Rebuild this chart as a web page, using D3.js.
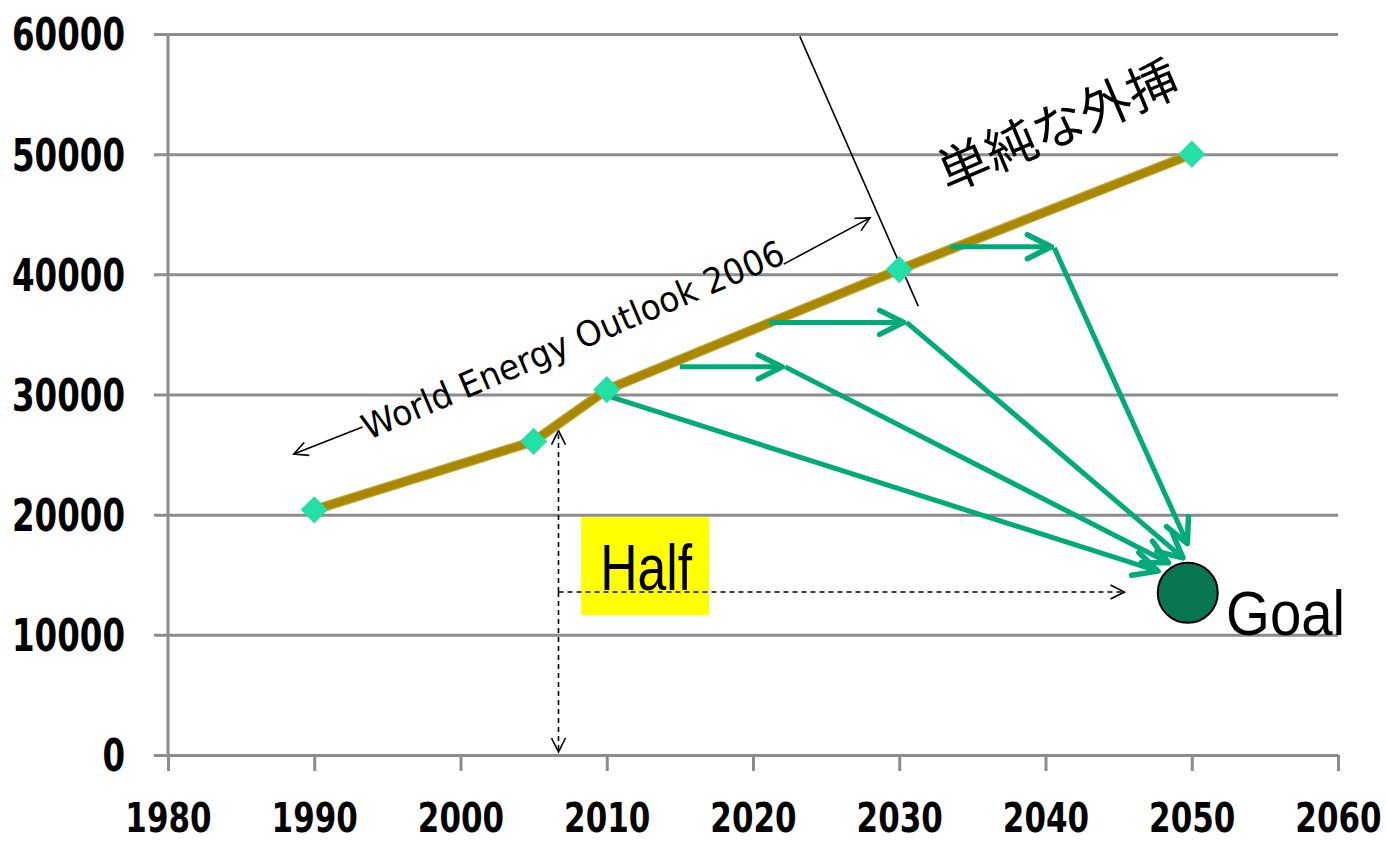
<!DOCTYPE html>
<html>
<head>
<meta charset="utf-8">
<script src="https://cdn.jsdelivr.net/npm/d3@7"></script>
<style>
  html, body { margin: 0; padding: 0; background: #fff; }
  svg { display: block; }
</style>
</head>
<body>
<svg id="chart" width="1387" height="842"></svg>
<script>
// Energy-related emissions path: history, WEO 2006 outlook and the 2050 goal
const years = [1990, 2005, 2010, 2030, 2050];
const values = [20400, 26100, 30400, 40400, 50000];

const xTicks = [1980, 1990, 2000, 2010, 2020, 2030, 2040, 2050, 2060];
const yTicks = [0, 10000, 20000, 30000, 40000, 50000, 60000];

// 2050 target point
const goal = [2050, 13500];

// reduction pathways: a horizontal "delay" step, then the drop towards the goal
const delaySteps = [
  [[2015.0, 32300], [2022.0, 32300]],
  [[2021.1, 36000], [2030.3, 36000]],
  [[2033.5, 42300], [2040.4, 42300]]
];
const dropPaths = [
  [[2010.0, 29900], [2047.7, 15300]],
  [[2022.2, 32300], [2048.4, 16000]],
  [[2030.5, 36000], [2049.4, 16400]],
  [[2040.6, 42200], [2049.7, 17600]]
];

// WEO 2006 span arrows and the divider line
const weoLeft = [[1993.3, 27300], [1988.6, 25050]];
const weoRight = [[2022.1, 40850], [2028.0, 44700]];
const divider = [[2023.2, 59800], [2031.3, 37350]];

// "Half" guide lines
const halfDown = [[2006.7, 13560], [2006.7, 250]];
const halfUp = [[2006.7, 13560], [2006.7, 27000]];
const halfRight = [[2006.7, 13560], [2045.4, 13560]];
const halfBox = [[2008.25, 19800], [2017.0, 11650]];

const svg = d3.select("#chart");
const x = d3.scaleLinear().domain([1980, 2060]).range([168, 1338]);
const y = d3.scaleLinear().domain([0, 60000]).range([755, 34]);

const gridColor = "#8c8c8c";
const green = "#00ab7a";

// arrowhead markers
const defs = svg.append("defs");
defs.append("marker")
  .attr("id", "gHead").attr("markerUnits", "userSpaceOnUse")
  .attr("viewBox", "-30 -16 34 32").attr("markerWidth", 34).attr("markerHeight", 32)
  .attr("refX", 0).attr("refY", 0).attr("orient", "auto")
  .append("path").attr("d", "M-24,-12 L0,0 L-24,12")
  .attr("fill", "none").attr("stroke", green).attr("stroke-width", 5.5)
  .attr("stroke-linecap", "round").attr("stroke-linejoin", "round");
defs.append("marker")
  .attr("id", "kHead").attr("markerUnits", "userSpaceOnUse")
  .attr("viewBox", "-18 -10 20 20").attr("markerWidth", 20).attr("markerHeight", 20)
  .attr("refX", 0).attr("refY", 0).attr("orient", "auto")
  .append("path").attr("d", "M-14,-7 L0,0 L-14,7")
  .attr("fill", "none").attr("stroke", "#000").attr("stroke-width", 1.6);

// horizontal gridlines with left-side ticks and labels
const yAxis = d3.axisLeft(y).tickValues(yTicks).tickFormat(d3.format("d"))
  .tickSize(1338 - 154).tickPadding(29);
const gy = svg.append("g").attr("transform", "translate(1338,0)").call(yAxis);
gy.select(".domain").remove();
gy.selectAll(".tick line").attr("stroke", gridColor).attr("stroke-width", 3);
gy.selectAll(".tick text")
  .attr("font-family", "DejaVu Sans").attr("font-weight", "bold")
  .attr("font-size", 44).attr("fill", "#000").attr("dy", "0.36em")
  .attr("textLength", d => String(d).length * 22.6)
  .attr("lengthAdjust", "spacingAndGlyphs");

// bottom axis ticks and labels (tall, narrow digits)
const labelStretch = 1.32;
const xAxis = d3.axisBottom(x).tickValues(xTicks).tickFormat(d3.format("d"))
  .tickSize(16).tickPadding(0);
const gx = svg.append("g").attr("transform", "translate(0,755)").call(xAxis);
gx.select(".domain").remove();
gx.selectAll(".tick line").attr("stroke", gridColor).attr("stroke-width", 3);
gx.selectAll(".tick text")
  .attr("font-family", "DejaVu Sans").attr("font-weight", "bold")
  .attr("font-size", 31).attr("fill", "#000")
  .attr("y", 77 / labelStretch).attr("dy", 0)
  .attr("transform", `scale(1,${labelStretch})`);

// vertical value axis
svg.append("line")
  .attr("x1", x(1980)).attr("x2", x(1980))
  .attr("y1", y(60000)).attr("y2", y(0))
  .attr("stroke", gridColor).attr("stroke-width", 3);

const line = d3.line().x(d => x(d[0])).y(d => y(d[1]));

// WEO 2006 span arrows, label and divider
svg.append("path").attr("d", line(weoLeft)).attr("stroke", "#000")
  .attr("stroke-width", 1.6).attr("fill", "none").attr("marker-end", "url(#kHead)");
svg.append("path").attr("d", line(weoRight)).attr("stroke", "#000")
  .attr("stroke-width", 1.6).attr("fill", "none").attr("marker-end", "url(#kHead)");
svg.append("path").attr("d", line(divider)).attr("stroke", "#000")
  .attr("stroke-width", 1.6).attr("fill", "none");
svg.append("text")
  .attr("transform", `translate(${x(1993.7)},${y(26200)}) rotate(-23)`)
  .attr("font-family", "DejaVu Sans").attr("font-size", 35).attr("fill", "#000")
  .attr("textLength", 455).attr("lengthAdjust", "spacingAndGlyphs")
  .text("World Energy Outlook 2006");

// simple extrapolation label
svg.append("text")
  .attr("transform", `translate(${x(2033.3)},${y(46800)}) rotate(-23)`)
  .attr("font-family", "Noto Sans CJK JP").attr("font-size", 51).attr("fill", "#000")
  .attr("textLength", 256).attr("lengthAdjust", "spacingAndGlyphs")
  .text("単純な外挿");

// "Half" box and guide lines
svg.append("rect")
  .attr("x", x(halfBox[0][0])).attr("y", y(halfBox[0][1]))
  .attr("width", x(halfBox[1][0]) - x(halfBox[0][0]))
  .attr("height", y(halfBox[1][1]) - y(halfBox[0][1]))
  .attr("fill", "#ffff00");
[halfDown, halfUp, halfRight].forEach(seg => {
  svg.append("path").attr("d", line(seg)).attr("stroke", "#000")
    .attr("stroke-width", 1.6).attr("stroke-dasharray", "5,4")
    .attr("fill", "none").attr("marker-end", "url(#kHead)");
});
svg.append("text")
  .attr("x", x(2009.55)).attr("y", y(13700))
  .attr("font-family", "Liberation Sans").attr("font-size", 64).attr("fill", "#000")
  .attr("textLength", 92).attr("lengthAdjust", "spacingAndGlyphs")
  .text("Half");

// main trajectory
const pts = years.map((yr, i) => [yr, values[i]]);
svg.append("path").attr("d", line(pts))
  .attr("fill", "none").attr("stroke", "#c4a63a").attr("stroke-width", 10)
  .attr("stroke-linejoin", "round");
svg.append("path").attr("d", line(pts))
  .attr("fill", "none").attr("stroke", "#a88800").attr("stroke-width", 7.5)
  .attr("stroke-linejoin", "round");

// reduction pathways
delaySteps.forEach(seg => {
  svg.append("path").attr("d", line(seg)).attr("stroke", green)
    .attr("stroke-width", 5).attr("fill", "none").attr("marker-end", "url(#gHead)");
});
dropPaths.forEach(seg => {
  svg.append("path").attr("d", line(seg)).attr("stroke", green)
    .attr("stroke-width", 5).attr("fill", "none").attr("marker-end", "url(#gHead)");
});

// data markers
const diamond = d3.symbol().type(d3.symbolSquare).size(370);
svg.append("g").selectAll("path").data(pts).join("path")
  .attr("d", diamond)
  .attr("transform", d => `translate(${x(d[0])},${y(d[1])}) rotate(45)`)
  .attr("fill", "#22e0a6");

// goal marker
svg.append("circle")
  .attr("cx", x(goal[0]) - 4).attr("cy", y(goal[1]))
  .attr("r", 30).attr("fill", "#077552").attr("stroke", "#000").attr("stroke-width", 2);
svg.append("text")
  .attr("x", x(2052.35)).attr("y", y(10000))
  .attr("font-family", "Liberation Sans").attr("font-size", 63).attr("fill", "#000")
  .attr("textLength", 119).attr("lengthAdjust", "spacingAndGlyphs")
  .text("Goal");
</script>
</body>
</html>
